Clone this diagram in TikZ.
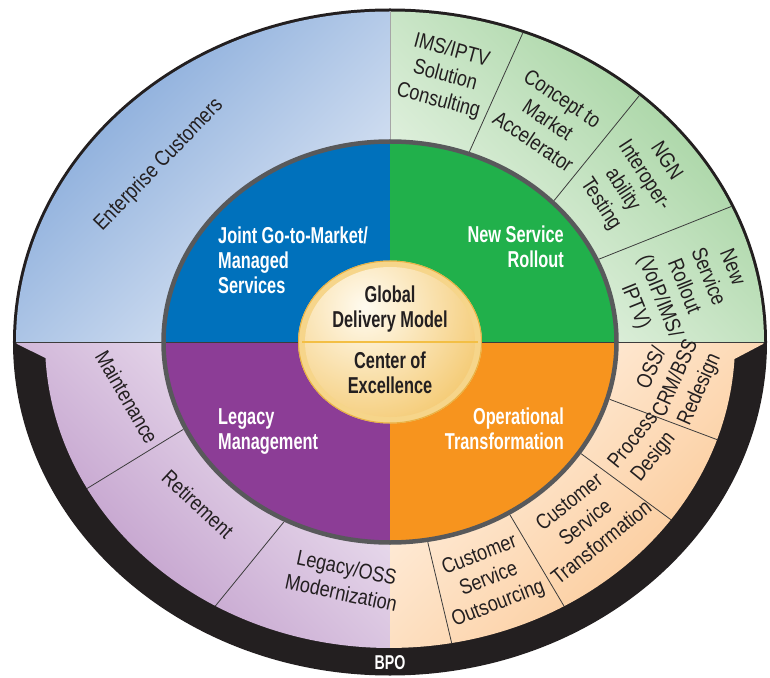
\documentclass[tikz,border=0pt]{standalone}
\usepackage{fontspec}
\setmainfont{Liberation Sans}[FakeStretch=0.84]
\newfontfamily\bcond{Liberation Sans}[FakeStretch=0.71]
\definecolor{bandblack}{HTML}{231F20}
\definecolor{txtdark}{HTML}{231F20}
\definecolor{bluedark}{HTML}{7FA5D8}
\definecolor{bluelight}{HTML}{E2EAF6}
\definecolor{greendark}{HTML}{9ED09A}
\definecolor{greenlight}{HTML}{EEF7EC}
\definecolor{purpledark}{HTML}{BB94C6}
\definecolor{purplelight}{HTML}{F1E9F4}
\definecolor{orangedark}{HTML}{FBC58F}
\definecolor{orangelight}{HTML}{FFF3E6}
\definecolor{qblue}{HTML}{0071BC}
\definecolor{qgreen}{HTML}{21B04B}
\definecolor{qpurple}{HTML}{8C3D96}
\definecolor{qorange}{HTML}{F7941E}
\definecolor{discgray}{HTML}{58595B}
\definecolor{sepgray}{HTML}{3C3C3C}
\definecolor{goldrim}{HTML}{F6D58A}
\definecolor{goldedge}{HTML}{E9B142}
\definecolor{goldlight}{HTML}{FFFBF0}
\definecolor{golddark}{HTML}{EFB236}
\definecolor{golddiv}{HTML}{F3BF45}
\tikzset{
  sepline/.style={draw=sepgray, line width=0.8pt},
  vline/.style={draw=gray!70, line width=0.6pt},
  hline/.style={draw=sepgray, line width=0.9pt},
  ringtxt/.style={font=\fontsize{21.5}{26}\selectfont, text=txtdark, align=center, inner sep=0pt},
  innertxt/.style={font=\bcond\bfseries\fontsize{23}{25}\selectfont, text=white, inner sep=0pt},
  centertxt/.style={font=\bcond\bfseries\fontsize{23}{25}\selectfont, text=txtdark, align=center, inner sep=0pt},
  bpotxt/.style={font=\bcond\bfseries\fontsize{20}{22}\selectfont, text=white, inner sep=0pt}
}
\begin{document}
\begin{tikzpicture}[x=1pt,y=1pt]
\useasboundingbox (-390,-335) rectangle (380,342);
% outer black shape
\fill[bandblack] (0,0) ellipse[x radius=377, y radius=333.5];
% outer ring quarters
\shade[top color=bluedark, bottom color=bluelight, shading angle=45]
  (0,0) -- (0,330.5) arc[start angle=90, end angle=180, x radius=374, y radius=330.5] -- cycle;
\shade[top color=greendark, bottom color=greenlight, shading angle=-45]
  (0,0) -- (374,0) arc[start angle=0, end angle=90, x radius=374, y radius=330.5] -- cycle;
\shade[top color=purplelight, bottom color=purpledark, shading angle=-45]
  (0,0) -- (-374,0) -- (-373,-2) -- (-344.5,-16) arc[start angle=183, end angle=270, x radius=345, y radius=306] -- cycle;
\shade[top color=orangelight, bottom color=orangedark, shading angle=45]
  (0,0) -- (374,0) -- (373,-2) -- (344.5,-17) arc[start angle=-3.2, end angle=-90, x radius=345, y radius=306] -- cycle;
% separators
\foreach \a/\b in {69.7/69.2, 44.2/48.2, 24.1/24.2}
  \draw[sepline] ({229*cos(\a)},{203*sin(\a)}) -- ({374*cos(\b)},{330.5*sin(\b)});
\foreach \a/\b in {-16.4/-18.6, -33.4/-35.5, -58.4/-59.7, -80.5/-79.7, 205.5/208.6, 242.4/239.6}
  \draw[sepline] ({229*cos(\a)},{203*sin(\a)}) -- ({345*cos(\b)},{306*sin(\b)});
\draw[vline] (0,203) -- (0,330.5);
\draw[hline] (-374,0) -- (374,0);
% inner disc
\begin{scope}
  \clip (0,0) ellipse[x radius=227, y radius=201];
  \fill[qblue] (-230,0) rectangle (0,205);
  \fill[qgreen] (0,0) rectangle (230,205);
  \fill[qpurple] (-230,-205) rectangle (0,0);
  \fill[qorange] (0,-205) rectangle (230,0);
\end{scope}
\draw[hline] (-225,0) -- (225,0);
\draw[draw=discgray, line width=4.5pt] (0,0) ellipse[x radius=226.5, y radius=200.5];
% gold centre
\fill[goldrim] (0,0) ellipse[x radius=92, y radius=81.5];
\draw[goldedge, line width=1pt] (0,0) ellipse[x radius=91.5, y radius=81];
\begin{scope}
  \clip (0,0) ellipse[x radius=85, y radius=75];
  \shade[inner color=goldlight, outer color=golddark] (-25,35) circle[radius=190];
\end{scope}
\draw[golddiv, line width=1.2pt] (-88,0) -- (88,0);
% inner labels
\node[innertxt, anchor=west, align=left] (jgm) at (-172,82) {Joint Go-to-Market/\\Managed\\Services};
\node[innertxt, anchor=east, align=right] (nsr) at (174,95) {New Service\\Rollout};
\node[innertxt, anchor=west, align=left] (lgm) at (-172,-90) {Legacy\\Management};
\node[innertxt, anchor=east, align=right] (opt) at (174,-87) {Operational\\Transformation};
\node[centertxt] (gdm) at (0,33) {Global\\Delivery Model};
\node[centertxt] (coe) at (0,-30.5) {Center of\\Excellence};
% outer ring labels
\node[ringtxt, rotate=46] (ent) at (-231,177) {Enterprise Customers};
\node[ringtxt, rotate=-15] (ims) at (55,266) {IMS/IPTV\\Solution\\Consulting};
\node[ringtxt, rotate=-34] (ctm) at (158,222) {Concept to\\Market\\Accelerator};
\node[ringtxt, rotate=-57] (ngn) at (243,159) {NGN\\Interoper-\\ability\\Testing};
\node[ringtxt, rotate=-68] (nsv) at (293,55) {New\\Service\\Rollout\\(VoIP/IMS/\\IPTV)};
\node[ringtxt, rotate=66] (oss) at (286,-37) {OSS/\\CRM/BSS\\Redesign};
\node[ringtxt, rotate=51] (prd) at (254,-107) {Process\\Design};
\node[ringtxt, rotate=38.5] (cst) at (195,-180) {Customer\\Service\\Transformation};
\node[ringtxt, rotate=21] (cso) at (99,-238) {Customer\\Service\\Outsourcing};
\node[ringtxt, rotate=-60] (mnt) at (-263,-55) {Maintenance};
\node[ringtxt, rotate=-43] (ret) at (-192,-162) {Retirement};
\node[ringtxt, rotate=-12] (lom) at (-46,-238) {Legacy/OSS\\Modernization};
\node[bpotxt] (bpo) at (0,-321) {BPO};
\end{tikzpicture}
\end{document}
